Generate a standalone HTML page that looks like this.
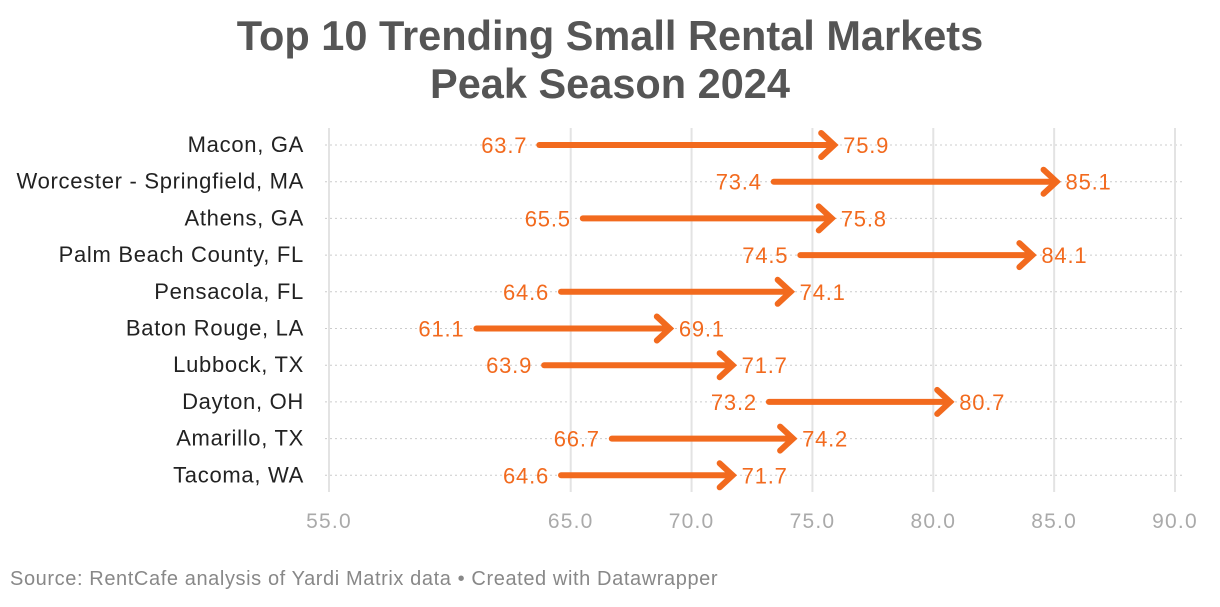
<!DOCTYPE html>
<html><head><meta charset="utf-8"><style>
body{margin:0;background:#fff;width:1220px;height:602px;overflow:hidden;font-family:"Liberation Sans",sans-serif}
</style></head><body>
<svg width="1220" height="602">
<text x="610" y="50" text-anchor="middle" font-size="41.5" font-weight="bold" fill="#555">Top 10 Trending Small Rental Markets</text>
<text x="610" y="98" text-anchor="middle" font-size="41.5" font-weight="bold" fill="#555">Peak Season 2024</text>
<g id="plot"></g>
<text x="10" y="585" font-size="20" letter-spacing="0.6" fill="#888">Source: RentCafe analysis of Yardi Matrix data • Created with Datawrapper</text>
</svg>
<script>
const categories=["Macon, GA","Worcester - Springfield, MA","Athens, GA","Palm Beach County, FL","Pensacola, FL","Baton Rouge, LA","Lubbock, TX","Dayton, OH","Amarillo, TX","Tacoma, WA"];
const startValues=[63.7,73.4,65.5,74.5,64.6,61.1,63.9,73.2,66.7,64.6];
const endValues=[75.9,85.1,75.8,84.1,74.1,69.1,71.7,80.7,74.2,71.7];
const tickValues=[55,65,70,75,80,85,90];
const ns="http://www.w3.org/2000/svg";
const g=document.getElementById('plot');
const x=v=>329+(v-55)*(1175-329)/35;
const y=i=>145+i*36.7;
const C="#f26a1e";
function el(t,a,p){const e=document.createElementNS(ns,t);for(const k in a)e.setAttribute(k,a[k]);(p||g).appendChild(e);return e;}
categories.forEach((c,i)=>{
 const l=el('line',{x1:325,x2:1185,y1:y(i),y2:y(i),stroke:"#ccc","stroke-width":1,"stroke-dasharray":"2,3"});
 
 
});
tickValues.forEach(v=>{
 const l=el('line',{x1:x(v),x2:x(v),y1:128,y2:492,stroke:"#e3e3e3","stroke-width":2});
 
 
 const t=el('text',{x:x(v),y:528,"text-anchor":"middle","font-size":21,"letter-spacing":1.2,fill:"#aaa"});
 t.textContent=v.toFixed(1);
 
 
});
categories.forEach((c,i)=>{
 const yy=y(i),x1=x(startValues[i]),x2=x(endValues[i]);
 const lab=el('text',{x:304,y:yy+7,"text-anchor":"end","font-size":22,"letter-spacing":0.7,fill:"#222"});
 lab.textContent=c;
 
 
 const ln=el('line',{x1:x1,x2:x2-3,y1:yy,y2:yy,stroke:C,"stroke-width":6,"stroke-linecap":"round"});
 
 
 const hd=el('polyline',{points:`${x2-13},${yy-12} ${x2},${yy} ${x2-13},${yy+12}`,fill:"none",stroke:C,"stroke-width":6,"stroke-linecap":"round","stroke-linejoin":"miter"});
 
 
 const s=el('text',{x:x1-12,y:yy+8,"text-anchor":"end","font-size":22,"letter-spacing":0.8,fill:C});
 s.textContent=startValues[i].toFixed(1);
 
 
 const e=el('text',{x:x2+9,y:yy+8,"font-size":22,"letter-spacing":0.8,fill:C});
 e.textContent=endValues[i].toFixed(1);
 
 
});
</script>
</body></html>
